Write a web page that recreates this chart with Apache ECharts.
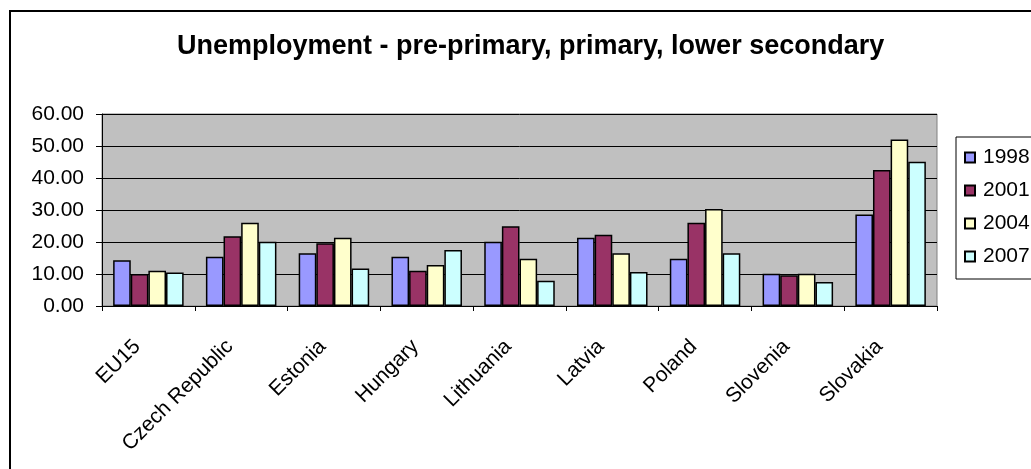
<!DOCTYPE html>
<html><head><meta charset="utf-8">
<script src="https://cdn.jsdelivr.net/npm/echarts@6/dist/echarts.min.js"></script>
<style>html,body{margin:0;padding:0;background:#fff}#c{width:1031px;height:469px}</style>
</head><body><div id="c"></div>
<script>
const categories = ['EU15','Czech Republic','Estonia','Hungary','Lithuania','Latvia','Poland','Slovenia','Slovakia'];
const years = ['1998','2001','2004','2007'];
const v1998 = [14.3, 15.4, 16.5, 15.4, 20.1, 21.3, 14.8, 10.1, 28.6];
const v2001 = [10.0, 21.8, 19.6, 11.0, 24.9, 22.3, 26.0, 9.6, 42.5];
const v2004 = [11.0, 26.0, 21.3, 12.8, 14.8, 16.5, 30.3, 10.1, 52.0];
const v2007 = [10.5, 20.1, 11.7, 17.5, 7.9, 10.6, 16.5, 7.5, 45.1];
const colors = ['#9999FF','#993366','#FFFFCC','#CCFFFF'];
const values = [v1998, v2001, v2004, v2007];
const font = 'Liberation Sans, Arial, sans-serif';
const chart = echarts.init(document.getElementById('c'), null, {renderer:'canvas'});
chart.setOption({
  animation: false,
  backgroundColor: '#fff',
  title: {
    text: 'Unemployment - pre-primary, primary, lower secondary',
    left: 172, top: 28,
    textStyle: {fontFamily: font, fontSize: 27, fontWeight: 'bold', color: '#000'}
  },
  graphic: [{
    type: 'rect', shape: {x: 10, y: 11, width: 1100, height: 600},
    style: {fill: 'none', stroke: '#000', lineWidth: 2}, silent: true
  }],
  legend: {
    orient: 'vertical', left: 956, top: 137,
    data: years,
    itemWidth: 10, itemHeight: 10, itemGap: 12,
    padding: [10, 40, 12, 8],
    borderColor: '#000', borderWidth: 1,
    icon: 'rect',
    textStyle: {fontFamily: font, fontSize: 21, color: '#000', padding: [0, 0, 0, 3]}
  },
  grid: {left: 102, right: 94, top: 114, bottom: 163, show: true,
         backgroundColor: '#C0C0C0', borderColor: '#808080', borderWidth: 1},
  xAxis: {
    type: 'category', data: categories,
    axisLine: {lineStyle: {color: '#000', width: 1}},
    axisTick: {show: true, length: 5, lineStyle: {color: '#000'}},
    axisLabel: {rotate: 45, interval: 0, fontFamily: font, fontSize: 21, color: '#000', margin: 26, padding: [0, 16, 0, 0]}
  },
  yAxis: {
    type: 'value', min: 0, max: 60, interval: 10,
    axisLine: {show: true, lineStyle: {color: '#000'}},
    axisTick: {show: true, length: 6, lineStyle: {color: '#000'}},
    splitLine: {lineStyle: {color: '#000', width: 1}},
    axisLabel: {formatter: v => v.toFixed(2), fontFamily: font, fontSize: 21, color: '#000', margin: 18}
  },
  series: years.map((y, i) => ({
    name: y, type: 'bar', data: values[i],
    barGap: '0%', barCategoryGap: '24%',
    itemStyle: {color: colors[i], borderColor: '#000', borderWidth: 1.5}
  }))
});
</script></body></html>
